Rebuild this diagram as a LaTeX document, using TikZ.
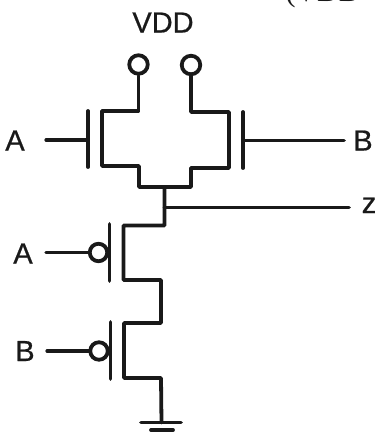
\documentclass[tikz,border=0pt]{standalone}
\usepackage{fontspec}
\setmainfont{Liberation Sans}[FakeBold=0.7]
\newfontfamily\serifpart{Liberation Serif}
\tikzset{
  wire/.style={line width=3.8pt,line cap=round,line join=round,black!90},
  thin wire/.style={wire,line width=3.2pt},
  terminal/.style={circle,draw=black!90,line width=3.8pt,minimum size=18.5pt,inner sep=0pt,fill=white},
  bubble/.style={terminal,minimum size=17.5pt},
  lbl/.style={font=\fontsize{29}{29}\selectfont,text=black!90,inner sep=0pt,anchor=base},
  junction/.style={coordinate}
}
\begin{document}
\begin{tikzpicture}[x=1pt,y=-1pt]
\useasboundingbox (0,0) rectangle (377,434);
\begin{scope}
\clip (0,0) rectangle (377,434);
\node[lbl,font=\serifpart\fontsize{30}{30}\selectfont] (cut) at (323,1.5) {(VDD};
\end{scope}
\node[lbl] (vdd) at (163,32.5) {VDD};
\node[lbl] (a1) at (15,150.5) {A};
\node[lbl] (b1) at (363,150.5) {B};
\node[lbl] (z) at (369,213) {z};
\node[lbl] (a2) at (23,263.5) {A};
\node[lbl] (b2) at (25,361) {B};
\node[terminal] (t1) at (138.5,64.5) {};
\node[terminal] (t2) at (191,65) {};
\node[bubble] (n1) at (98.5,252.5) {};
\node[bubble] (n2) at (99,351) {};
\coordinate (s) at (164.5,187);
\coordinate (o) at (164.5,207.5);
\coordinate (g) at (161.5,422.5);
\draw[wire] (t1) -- (138.5,111) -- (102,111) -- (102,166) -- (139,166) -- (139,187) -- (191,187) -- (191,168) -- (229,168) -- (229,112) -- (191,112) -- (t2);
\draw[wire] (s) -- (164.5,225.5) -- (123.5,225.5) -- (123.5,280) -- (161,280) -- (161,323) -- (124,323) -- (124,378) -- (161,378) -- (g);
\coordinate (zend) at (349,207.5);
\draw[wire] (o) -- (zend);
\draw[wire] (88,111) -- (88,167);
\draw[wire] (243,112) -- (243,168);
\draw[wire] (109.5,224) -- (109.5,281);
\draw[wire] (110.5,322) -- (110.5,379);
\coordinate (g1) at (88,140);
\coordinate (g2) at (243,140.5);
\coordinate (l1) at (46,140);
\coordinate (l2) at (344,140.5);
\coordinate (l3) at (46,252.5);
\coordinate (l4) at (47,351);
\draw[thin wire] (l1) -- (g1);
\draw[wire] (g2) -- (l2);
\draw[thin wire] (l3) -- (n1);
\draw[thin wire] (l4) -- (n2);
\coordinate (g1a) at (141,422.5);
\coordinate (g1b) at (181,422.5);
\coordinate (g2a) at (151,430);
\coordinate (g2b) at (173,430);
\draw[wire] (g1a) -- (g1b);
\draw[wire] (g2a) -- (g2b);
\end{tikzpicture}
\end{document}
